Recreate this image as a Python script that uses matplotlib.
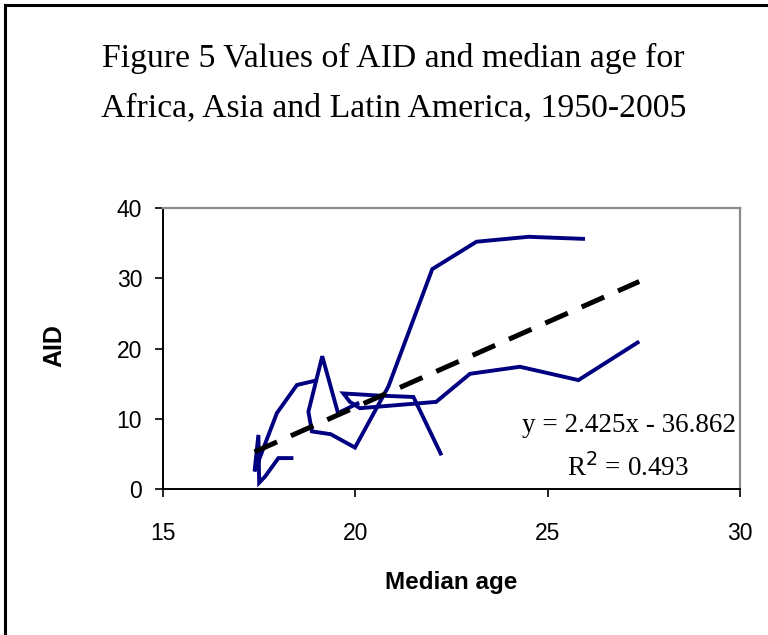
import matplotlib
matplotlib.use("Agg")
import matplotlib.pyplot as plt
from matplotlib.lines import Line2D

# Data, chronological 1950-2005
africa_age = [19.02, 18.48, 17.96, 17.38, 17.48, 17.50, 17.65, 18.00, 18.39]
africa_aid = [15.5, 14.8, 10.8, 2.5, 7.7, 0.9, 1.75, 4.4, 4.4]

latam_age = [20.10, 19.55, 19.14, 18.78, 18.87, 19.36, 19.99, 20.86, 22.00, 23.15, 24.50, 25.97]
latam_aid = [12.3, 10.8, 18.9, 11.0, 8.2, 7.8, 5.9, 14.6, 31.3, 35.2, 35.9, 35.6]

asia_age = [22.24, 21.51, 20.60, 19.69, 19.86, 20.12, 20.99, 22.10, 22.98, 24.28, 25.80, 27.38]
asia_aid = [4.8, 13.1, 13.3, 13.6, 12.4, 11.5, 11.9, 12.4, 16.4, 17.4, 15.5, 21.0]

slope, intercept = 2.425, -36.862
trend_x = [17.38, 27.38]

x_ticks = [15, 20, 25, 30]
y_ticks = [0, 10, 20, 30, 40]

title_lines = ["Figure 5 Values of AID and median age for",
               "Africa, Asia and Latin America, 1950-2005"]

fig = plt.figure(figsize=(7.68, 6.35), dpi=100)
fig.patch.set_facecolor("white")

# outer frame (left and top)
fig.add_artist(Line2D([5/768, 5/768], [0, 1 - 5/635], transform=fig.transFigure, color="black", lw=2.2))
fig.add_artist(Line2D([5/768, 1], [1 - 5/635, 1 - 5/635], transform=fig.transFigure, color="black", lw=2.2))

ax = fig.add_axes([163/768, 1 - 489/635, (740 - 163)/768, (489 - 208)/635])

navy = "#000080"
for xs, ys in [(africa_age, africa_aid), (latam_age, latam_aid), (asia_age, asia_aid)]:
    ax.plot(xs, ys, color=navy, lw=2.8, solid_joinstyle="miter", solid_capstyle="butt")

ty = [slope * v + intercept for v in trend_x]
ax.plot(trend_x, ty, color="black", lw=3.6, dashes=(4.92, 3.03), dash_capstyle="butt")

ax.set_xlim(15, 30)
ax.set_ylim(0, 40)
ax.set_xticks(x_ticks)
ax.set_yticks(y_ticks)
ax.set_xticklabels([str(t) for t in x_ticks], fontsize=16.5, family="Liberation Sans")
ax.set_yticklabels([str(t) for t in y_ticks], fontsize=16.5, family="Liberation Sans")
ax.tick_params(direction="out", length=6, width=1.2)
ax.tick_params(axis="y", pad=9)
ax.tick_params(axis="x", pad=18)

for s in ["left", "bottom"]:
    ax.spines[s].set_color("black")
    ax.spines[s].set_linewidth(1.4)
for s in ["top", "right"]:
    ax.spines[s].set_color("#8c8c8c")
    ax.spines[s].set_linewidth(1.6)

fig.text(451/768, 1 - 583/635, "Median age", ha="center", va="center", fontsize=17.5,
         fontweight="bold", family="Liberation Sans")
fig.text(54/768, 1 - 346/635, "AID", ha="center", va="center", fontsize=18, rotation=90,
         fontweight="bold", family="Liberation Sans")

fig.text(736/768, 1 - 426/635, "y = 2.425x - 36.862", ha="right", va="center",
         fontsize=19.5, family="Liberation Serif")
fig.text(628/768, 1 - 468/635, "R$^2$ = 0.493", ha="center", va="center",
         fontsize=19.5, family="Liberation Serif")

fig.text(393.5/768, 1 - 58/635, title_lines[0], ha="center", va="center", fontsize=24.3,
         family="Liberation Serif")
fig.text(393.5/768, 1 - 108/635, title_lines[1], ha="center", va="center", fontsize=24.3,
         family="Liberation Serif")

fig.savefig("out.png", dpi=100)
